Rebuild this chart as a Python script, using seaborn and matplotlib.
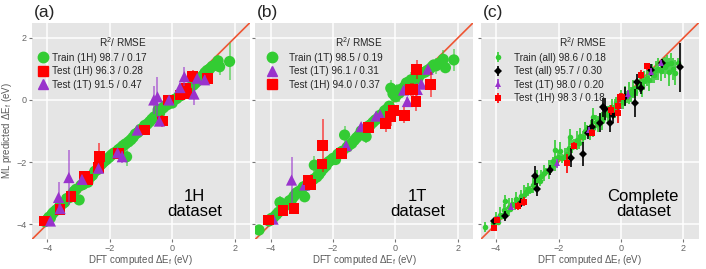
import matplotlib
matplotlib.use("Agg")
import matplotlib.pyplot as plt
from matplotlib.lines import Line2D
import seaborn as sns

# ---- panel (a): 1H model ----
train_1h_x = [-4.08, -4.0, -3.95, -3.9, -3.85, -3.8, -3.72, -3.65, -3.6, -3.52,
              -3.45, -3.38, -3.3, -3.22, -3.15, -3.08, -2.98, -2.92, -2.85, -2.78,
              -2.7, -2.62, -2.55, -2.48, -2.4, -2.32, -2.25, -2.18, -2.1, -2.02,
              -1.95, -1.88, -1.8, -1.72, -1.65, -1.58, -1.5, -1.46, -1.4, -1.32,
              -1.25, -1.18, -1.1, -1.02, -0.95, -0.88, -0.8, -0.72, -0.65, -0.58,
              -0.5, -0.45, -0.4, -0.35, -0.28, -0.22, -0.15, -0.08, 0.0, 0.08,
              0.15, 0.22, 0.3, 0.38, 0.45, 0.52, 0.6, 0.68, 0.75, 0.82,
              0.9, 0.98, 1.05, 1.12, 1.2, 1.28, 1.36, 1.47, 1.52, 1.84]
train_1h_y = [-3.92, -3.85, -3.78, -3.8, -3.68, -3.62, -3.55, -3.5, -3.42, -3.35,
              -3.3, -3.18, -3.15, -3.05, -2.95, -2.88, -3.22, -2.75, -2.72, -2.62,
              -2.65, -2.48, -2.42, -2.3, -2.25, -2.12, -2.05, -1.98, -1.92, -1.85,
              -1.78, -1.72, -1.68, -1.6, -1.55, -1.48, -1.42, -1.83, -1.35, -1.28,
              -1.2, -1.1, -1.05, -0.95, -0.92, -0.82, -0.78, -0.7, -0.62, -0.55,
              -0.5, -0.32, -0.42, -0.28, -0.25, -0.18, -0.15, -0.05, -0.1, 0.02,
              0.05, 0.12, 0.15, 0.25, 0.3, 0.35, 0.42, 0.48, 0.55, 0.62,
              0.7, 0.78, 0.88, 0.95, 1.0, 1.08, 1.12, 1.26, 1.07, 1.24]
train_1h_err = [0.1, 0.05, 0.08, 0.12, 0.06, 0.1, 0.08, 0.15, 0.06, 0.1,
                0.08, 0.12, 0.06, 0.1, 0.08, 0.15, 0.1, 0.08, 0.12, 0.06,
                0.1, 0.08, 0.06, 0.12, 0.1, 0.08, 0.2, 0.06, 0.1, 0.08,
                0.12, 0.08, 0.1, 0.06, 0.15, 0.1, 0.08, 0.3, 0.1, 0.06,
                0.08, 0.12, 0.1, 0.06, 0.15, 0.08, 0.1, 0.12, 0.06, 0.1,
                0.15, 0.08, 0.2, 0.1, 0.06, 0.12, 0.08, 0.1, 0.15, 0.08,
                0.1, 0.06, 0.12, 0.08, 0.15, 0.1, 0.2, 0.08, 0.12, 0.1,
                0.15, 0.1, 0.12, 0.08, 0.1, 0.15, 0.12, 0.2, 0.25, 0.6]

a_test1h_x = [-4.09, -3.59, -3.24, -2.82, -2.71, -2.34, -2.36, -1.72, -0.88, -0.31,
              -0.12, 0.25, 0.44, 0.47, 0.66, 1.12]
a_test1h_y = [-3.9, -3.53, -3.12, -2.47, -2.56, -1.83, -2.18, -1.72, -0.97, -0.68,
              0.0, 0.16, 0.38, 0.22, 0.75, 0.70]
a_test1h_err = [0.1, 0.15, 0.1, 0.15, 0.12, 0.45, 0.1, 0.15, 0.1, 0.2,
                0.1, 0.15, 0.12, 0.15, 0.2, 0.15]

a_test1t_x = [-3.9, -3.64, -3.59, -3.31, -2.89, -2.36, -1.75, -1.6, -1.12, -0.59,
              -0.47, -0.41, -0.1, 0.25, 0.39, 0.7, 0.8, 1.04]
a_test1t_y = [-3.9, -3.14, -3.5, -2.5, -2.56, -2.2, -1.7, -1.83, -0.97, 0.0,
              0.1, -0.68, 0.0, 0.4, 0.75, 0.19, 0.70, 0.65]
a_test1t_err = [0.1, 0.5, 0.15, 0.9, 0.15, 0.12, 0.1, 0.2, 0.1, 0.45,
                0.65, 0.15, 0.1, 0.15, 0.3, 0.35, 0.1, 0.15]

# ---- panel (b): 1T model ----
train_1t_x = [-4.37, -4.05, -3.98, -3.9, -3.82, -3.75, -3.7, -3.62, -3.55, -3.48,
              -3.4, -3.32, -3.25, -3.18, -3.1, -3.02, -2.95, -2.91, -2.85, -2.78,
              -2.7, -2.62, -2.6, -2.52, -2.45, -2.38, -2.3, -2.22, -2.15, -2.08,
              -2.0, -1.92, -1.85, -1.78, -1.7, -1.63, -1.55, -1.48, -1.4, -1.32,
              -1.25, -1.18, -1.1, -1.02, -0.94, -0.88, -0.8, -0.72, -0.65, -0.58,
              -0.5, -0.42, -0.35, -0.28, -0.2, -0.15, -0.08, 0.0, 0.05, 0.12,
              0.2, 0.28, 0.35, 0.42, 0.5, 0.58, 0.65, 0.72, 0.8, 0.88,
              0.95, 1.02, 1.1, 1.18, 1.23, 1.3, 1.4, 1.53, 1.6, 1.87]
train_1t_y = [-4.19, -3.9, -3.82, -3.78, -3.7, -3.62, -3.3, -3.5, -3.42, -3.35,
              -3.25, -3.2, -3.1, -3.0, -2.95, -2.9, -2.8, -3.12, -2.75, -2.7,
              -2.6, -2.55, -2.1, -2.48, -2.4, -2.3, -2.2, -2.12, -2.0, -1.95,
              -1.88, -1.92, -1.75, -1.7, -1.65, -1.13, -1.52, -1.45, -1.4, -1.3,
              -1.22, -1.15, -1.0, -0.98, -1.18, -0.85, -0.8, -0.72, -0.65, -0.6,
              -0.5, -0.45, -0.35, -0.3, -0.2, 0.38, 0.2, 0.1, 0.3, 0.22,
              0.35, 0.42, 0.55, 0.5, 0.65, 0.6, 0.72, 0.7, 0.82, 0.88,
              0.9, 0.95, 1.0, 1.08, 1.13, 1.1, 1.18, 1.31, 1.04, 1.29]
train_1t_err = [0.1, 0.08, 0.06, 0.12, 0.1, 0.08, 0.2, 0.1, 0.06, 0.12,
                0.08, 0.1, 0.15, 0.06, 0.1, 0.08, 0.12, 0.15, 0.06, 0.1,
                0.08, 0.1, 0.3, 0.06, 0.12, 0.08, 0.1, 0.06, 0.15, 0.1,
                0.08, 0.12, 0.06, 0.1, 0.08, 0.3, 0.1, 0.06, 0.12, 0.08,
                0.1, 0.06, 0.15, 0.08, 0.2, 0.1, 0.08, 0.12, 0.06, 0.1,
                0.08, 0.15, 0.1, 0.06, 0.12, 0.25, 0.15, 0.1, 0.2, 0.3,
                0.15, 0.1, 0.2, 0.12, 0.25, 0.1, 0.15, 0.3, 0.12, 0.1,
                0.15, 0.1, 0.12, 0.2, 0.15, 0.25, 0.1, 0.3, 0.15, 0.35]

b_test1t_x = [-3.92, -3.33, -2.91, -1.58, -1.1, -0.62, -0.49, 0.26, 0.38, 0.7, 0.83, 1.04]
b_test1t_y = [-3.84, -2.58, -2.74, -1.47, -0.86, -0.52, -0.48, 0.32, -0.05, 0.34, 0.51, 0.99]
b_test1t_err = [0.1, 0.75, 0.1, 0.1, 0.12, 0.1, 0.15, 0.12, 0.15, 0.2, 0.12, 0.1]

b_test1h_x = [-4.07, -3.6, -3.25, -2.8, -2.72, -2.35, -2.33, -1.74, -0.87, -0.31,
              -0.15, -0.06, 0.28, 0.49, 0.55, 0.66, 0.68, 1.13]
b_test1h_y = [-3.87, -3.55, -3.49, -2.58, -2.72, -2.06, -1.47, -1.72, -0.88, -0.77,
              -0.54, -0.35, -0.49, 0.34, 0.34, -0.06, 0.99, 0.51]
b_test1h_err = [0.15, 0.1, 0.15, 0.12, 0.15, 0.15, 0.85, 0.1, 0.15, 0.25,
                0.3, 0.2, 0.25, 0.2, 0.2, 0.3, 0.3, 0.4]

# ---- panel (c): complete dataset ----
train_all_x = [-4.37, -4.1, -4.0, -3.95, -3.88, -3.8, -3.75, -3.68, -3.6, -3.55,
               -3.48, -3.4, -3.35, -3.28, -3.2, -3.12, -3.05, -2.98, -2.9, -2.82,
               -2.75, -2.68, -2.6, -2.55, -2.48, -2.4, -2.32, -2.25, -2.18, -2.1,
               -2.02, -1.95, -1.88, -1.8, -1.72, -1.65, -1.58, -1.5, -1.42, -1.35,
               -1.3, -1.22, -1.15, -1.08, -1.0, -0.95, -0.88, -0.8, -0.75, -0.68,
               -0.62, -0.55, -0.5, -0.42, -0.35, -0.28, -0.2, -0.15, -0.08, 0.0,
               0.05, 0.12, 0.2, 0.25, 0.32, 0.4, 0.45, 0.52, 0.6, 0.68,
               0.75, 0.82, 0.9, 0.98, 1.05, 1.12, 1.2, 1.28, 1.35, 1.42,
               1.48, 1.54, 1.6, 1.66, 1.72, 1.84, -2.12, -1.62, -0.9, -3.7]
train_all_y = [-4.09, -3.95, -3.8, -3.92, -3.7, -3.75, -3.55, -3.6, -3.45, -3.5,
               -3.35, -3.4, -3.2, -3.25, -3.1, -3.05, -2.95, -2.88, -2.9, -2.75,
               -2.65, -2.55, -2.62, -2.45, -2.35, -2.3, -2.25, -2.15, -1.98, -2.05,
               -1.85, -1.65, -1.88, -1.8, -1.75, -1.55, -1.5, -1.42, -1.3, -1.38,
               -1.15, -1.2, -1.0, -0.95, -1.05, -0.85, -0.9, -0.7, -0.78, -0.6,
               -0.68, -0.5, -0.42, -0.48, -0.35, -0.22, -0.28, -0.1, -0.15, 0.02,
               -0.05, 0.15, 0.1, 0.22, 0.18, 0.35, 0.25, 0.42, 0.5, 0.45,
               0.62, 0.7, 0.65, 0.85, 0.8, 0.95, 1.0, 0.92, 1.1, 1.05,
               1.15, 0.91, 1.2, 1.0, 0.88, 1.2, -1.6, -1.2, -0.55, -3.25]
train_all_err = [0.15, 0.1, 0.2, 0.12, 0.25, 0.1, 0.2, 0.15, 0.3, 0.12,
                 0.2, 0.15, 0.25, 0.1, 0.2, 0.3, 0.15, 0.2, 0.12, 0.25,
                 0.2, 0.3, 0.15, 0.2, 0.25, 0.12, 0.3, 0.2, 0.15, 0.25,
                 0.2, 0.3, 0.15, 0.25, 0.2, 0.3, 0.2, 0.15, 0.3, 0.2,
                 0.25, 0.2, 0.3, 0.15, 0.25, 0.2, 0.3, 0.2, 0.25, 0.15,
                 0.3, 0.2, 0.25, 0.3, 0.2, 0.25, 0.3, 0.2, 0.25, 0.3,
                 0.25, 0.3, 0.2, 0.35, 0.25, 0.3, 0.2, 0.3, 0.25, 0.35,
                 0.3, 0.25, 0.35, 0.3, 0.25, 0.3, 0.35, 0.3, 0.25, 0.35,
                 0.3, 0.45, 0.3, 0.35, 0.4, 0.15, 0.3, 0.25, 0.3, 0.2]

c_testall_x = [-4.07, -3.71, -3.21, -2.76, -2.7, -2.26, -1.59, -1.22, -1.07, -0.94,
               -0.67, -0.57, -0.5, -0.34, -0.27, 0.14, 0.46, 0.5, 0.65, 0.96, 1.33, 1.88]
c_testall_y = [-3.89, -3.74, -3.31, -2.44, -2.88, -2.26, -1.86, -1.74, -1.05, -0.86,
               -0.73, -0.24, -0.3, -0.73, -0.48, 0.11, -0.09, 0.59, 0.38, 0.97, 1.18, 1.05]
c_testall_err = [0.1, 0.15, 0.15, 0.3, 0.2, 0.15, 0.3, 0.4, 0.2, 0.25,
                 0.3, 0.3, 0.35, 0.3, 0.25, 0.3, 0.45, 0.25, 0.2, 0.2, 0.15, 0.8]

c_test1t_x = [-3.95, -3.52, -2.05, -1.04, -0.07, 0.22, 0.96, 1.28]
c_test1t_y = [-3.85, -3.44, -2.04, -0.97, -0.19, 0.18, 0.91, 1.18]
c_test1t_err = [0.1, 0.12, 0.15, 0.1, 0.2, 0.15, 0.12, 0.1]

c_test1h_x = [-4.07, -3.97, -3.31, -3.1, -1.72, -1.49, -0.94, -0.32, -0.1, -0.02,
              0.04, -0.08, 0.65, 0.84]
c_test1h_y = [-4.14, -3.87, -3.41, -3.28, -2.04, -1.47, -1.05, -0.32, -0.19, 0.09,
              0.11, -0.43, 0.81, 1.08]
c_test1h_err = [0.08, 0.1, 0.12, 0.15, 0.3, 0.1, 0.12, 0.15, 0.2, 0.15,
                0.12, 0.3, 0.15, 0.1]

GREEN = "#33CC33"
RED = "#FF0000"
PURPLE = "#9933CC"
BLACK = "#000000"
LINE = "#EE5533"
GRAY = "#5A5A5A"

sns.set_theme(style="darkgrid", rc={
    "axes.facecolor": "#E5E5E5",
    "grid.color": "white",
    "grid.linewidth": 1.1,
    "xtick.color": "#777777",
    "ytick.color": "#777777",
    "xtick.labelcolor": "#666666",
    "ytick.labelcolor": "#666666",
    "axes.labelcolor": GRAY,
    "xtick.bottom": True,
    "ytick.left": True,
    "xtick.major.size": 2.0,
    "ytick.major.size": 2.0,
    "xtick.major.width": 0.8,
    "ytick.major.width": 0.8,
    "xtick.major.pad": 1.5,
    "ytick.major.pad": 1.5,
})
plt.rcParams["font.family"] = ["Liberation Sans", "DejaVu Sans"]
plt.rcParams["mathtext.default"] = "regular"

W, H = 706, 269
fig = plt.figure(figsize=(W / 100, H / 100), dpi=100)
lefts = [31.7, 255, 480.5]
width = 218.5
bottom, top = 239, 23
axes = [fig.add_axes([l / W, 1 - bottom / H, width / W, (bottom - top) / H]) for l in lefts]


def setup(ax, letter, note, show_y):
    ax.set_xlim(-4.5, 2.5)
    ax.set_ylim(-4.48, 2.48)
    ax.set_xticks([-4, -2, 0, 2])
    ax.set_yticks([-4, -2, 0, 2])
    ax.tick_params(labelsize=6.5)
    for s in ax.spines.values():
        s.set_visible(False)
    ax.axline((0, 0), slope=1, color=LINE, lw=1.2, zorder=1.5)
    ax.set_xlabel(r"DFT computed $\Delta E_f$ (eV)", fontsize=7)
    ax.xaxis.set_label_coords(0.5, -0.063)
    if show_y:
        ax.set_ylabel(r"ML predicted $\Delta E_f$ (eV)", fontsize=7)
        ax.yaxis.set_label_coords(-0.082, 0.5)
    else:
        ax.set_yticklabels([])
        ax.set_ylabel("")
    ax.text(0.745, 0.16, note, transform=ax.transAxes, ha="center", va="center",
            fontsize=12, color="black", linespacing=1.0)
    pos = ax.get_position()
    fig.text(pos.x0 + 2 / W, 1 - 5 / H, letter, fontsize=12.5, va="top", ha="left")


def big(ax, x, y, err, color, marker, size, z):
    ax.errorbar(x, y, yerr=err, fmt="none", ecolor=color, alpha=0.6, elinewidth=1.3, zorder=z)
    sns.scatterplot(x=x, y=y, ax=ax, color=color, marker=marker, s=size,
                    edgecolor="none", linewidth=0, zorder=z + 0.1, legend=False)


def small(ax, x, y, err, color, marker, ms, z, label):
    return ax.errorbar(x, y, yerr=err, fmt=marker, color=color, ms=ms, ecolor=color,
                       elinewidth=1.2, mew=0, zorder=z, label=label)


LEG = dict(title="R$^2$/ RMSE", loc="upper left", bbox_to_anchor=(0.0, 0.975),
           frameon=False, fontsize=7.2, title_fontsize=7.2, alignment="right",
           labelspacing=0.35, borderaxespad=0.3)

# (a)
ax = axes[0]
setup(ax, "(a)", "1H\ndataset", True)
big(ax, train_1h_x, train_1h_y, train_1h_err, GREEN, "o", 65, 2)
big(ax, a_test1h_x, a_test1h_y, a_test1h_err, RED, "s", 60, 3)
big(ax, a_test1t_x, a_test1t_y, a_test1t_err, PURPLE, "^", 65, 4)
handles = [Line2D([], [], ls="none", marker="o", ms=7.5, color=GREEN),
           Line2D([], [], ls="none", marker="s", ms=7, color=RED),
           Line2D([], [], ls="none", marker="^", ms=7.5, color=PURPLE)]
labels = ["Train (1H) 98.7 / 0.17", "Test (1H) 96.3 / 0.28", "Test (1T) 91.5 / 0.47"]
ax.legend(handles, labels, handlelength=0.8, handletextpad=0.5, **LEG)

# (b)
ax = axes[1]
setup(ax, "(b)", "1T\ndataset", False)
big(ax, train_1t_x, train_1t_y, train_1t_err, GREEN, "o", 65, 2)
big(ax, b_test1t_x, b_test1t_y, b_test1t_err, PURPLE, "^", 65, 3)
big(ax, b_test1h_x, b_test1h_y, b_test1h_err, RED, "s", 60, 4)
handles = [Line2D([], [], ls="none", marker="o", ms=7.5, color=GREEN),
           Line2D([], [], ls="none", marker="^", ms=7.5, color=PURPLE),
           Line2D([], [], ls="none", marker="s", ms=7, color=RED)]
labels = ["Train (1T) 98.5 / 0.19", "Test (1T) 96.1 / 0.31", "Test (1H) 94.0 / 0.37"]
ax.legend(handles, labels, handlelength=2.0, handletextpad=0.7, **LEG)

# (c)
ax = axes[2]
setup(ax, "(c)", "Complete\ndataset", False)
h1 = small(ax, train_all_x, train_all_y, train_all_err, GREEN, "o", 4, 2, "Train (all) 98.6 / 0.18")
h2 = small(ax, c_testall_x, c_testall_y, c_testall_err, BLACK, "D", 4, 3, "Test (all) 95.7 / 0.30")
h3 = small(ax, c_test1t_x, c_test1t_y, c_test1t_err, PURPLE, "^", 4, 4, "Test (1T) 98.0 / 0.20")
h4 = small(ax, c_test1h_x, c_test1h_y, c_test1h_err, RED, "s", 4, 5, "Test (1H) 98.3 / 0.18")
hs = [h1, h2, h3, h4]
ax.legend(hs, [h.get_label() for h in hs], handlelength=2.0, handletextpad=0.7, **LEG)

fig.savefig("out.png", dpi=100)
